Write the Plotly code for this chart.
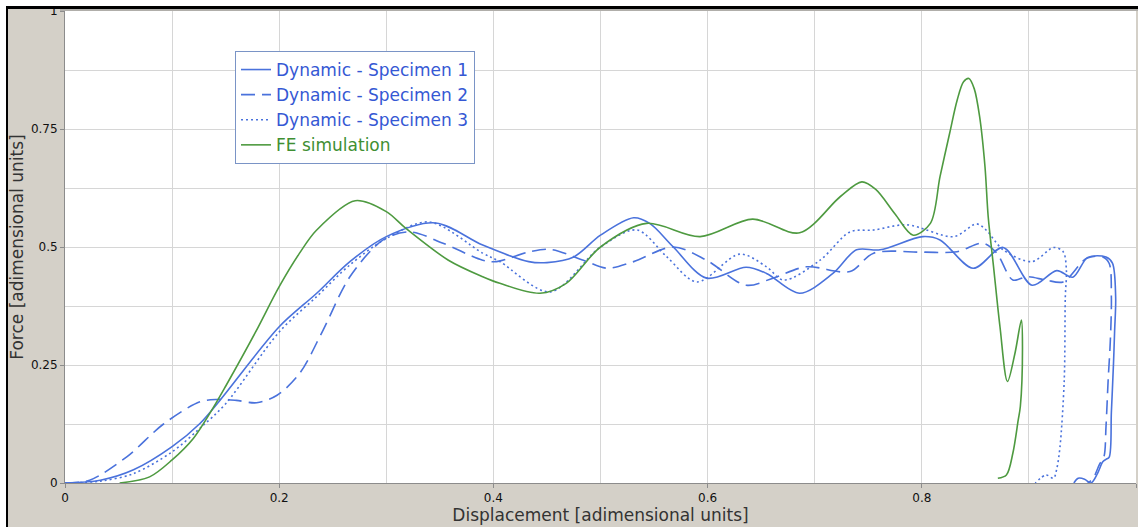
import plotly.graph_objects as go

# Force-displacement curves (adimensional units)
spec1_x = [0, 0.033, 0.064, 0.1, 0.126, 0.145, 0.2, 0.235, 0.266, 0.3, 0.346, 0.39, 0.433,
           0.45, 0.475, 0.5, 0.531, 0.546, 0.568, 0.599, 0.636, 0.655, 0.686, 0.717, 0.739,
           0.761, 0.801, 0.817, 0.848, 0.876, 0.903, 0.926, 0.941, 0.955, 0.972, 0.978,
           0.981, 0.98, 0.979, 0.977, 0.975, 0.972, 0.969, 0.964, 0.958, 0.952, 0.946, 0.942]
spec1_y = [0, 0.006, 0.028, 0.077, 0.126, 0.176, 0.331, 0.402, 0.469, 0.522, 0.551, 0.504, 0.469,
           0.467, 0.479, 0.525, 0.562, 0.55, 0.5, 0.434, 0.457, 0.444, 0.402, 0.444, 0.494,
           0.494, 0.522, 0.515, 0.455, 0.499, 0.419, 0.45, 0.436, 0.478, 0.479, 0.466,
           0.394, 0.32, 0.254, 0.15, 0.055, 0.05, 0.045, 0.02, 0.0, 0.008, 0.01, 0.0]

spec2_x = [0, 0.023, 0.058, 0.092, 0.126, 0.142, 0.16, 0.179, 0.198, 0.219, 0.241, 0.266, 0.297,
           0.322, 0.353, 0.39, 0.403, 0.434, 0.453, 0.484, 0.506, 0.531, 0.568, 0.599, 0.636,
           0.661, 0.692, 0.733, 0.755, 0.801, 0.833, 0.857, 0.87, 0.885, 0.898, 0.916, 0.932,
           0.954, 0.969, 0.975, 0.977, 0.976, 0.974, 0.972, 0.97, 0.966, 0.96, 0.955]
spec2_y = [0, 0.006, 0.056, 0.125, 0.172, 0.177, 0.175, 0.17, 0.186, 0.232, 0.324, 0.437, 0.515,
           0.532, 0.508, 0.472, 0.469, 0.49, 0.495, 0.472, 0.455, 0.469, 0.5, 0.472, 0.419,
           0.434, 0.458, 0.448, 0.487, 0.489, 0.49, 0.508, 0.487, 0.43, 0.437, 0.43, 0.426,
           0.476, 0.479, 0.465, 0.394, 0.3, 0.218, 0.12, 0.055, 0.04, 0.01, 0.0]

spec3_x = [0, 0.033, 0.064, 0.1, 0.126, 0.15, 0.2, 0.235, 0.266, 0.3, 0.34, 0.39, 0.406, 0.453,
           0.5, 0.534, 0.562, 0.59, 0.63, 0.655, 0.671, 0.705, 0.733, 0.755, 0.786, 0.83, 0.851,
           0.86, 0.876, 0.903, 0.923, 0.932, 0.935, 0.934, 0.933, 0.929, 0.926, 0.923, 0.916, 0.906]
spec3_y = [0, 0.004, 0.02, 0.066, 0.116, 0.168, 0.32, 0.395, 0.462, 0.518, 0.553, 0.487, 0.469, 0.405,
           0.5, 0.536, 0.479, 0.426, 0.485, 0.458, 0.43, 0.472, 0.532, 0.536, 0.547, 0.522, 0.549,
           0.536, 0.494, 0.469, 0.499, 0.49, 0.451, 0.394, 0.218, 0.076, 0.03, 0.01, 0.017, 0.0]

fe_x = [0.051, 0.079, 0.1, 0.12, 0.138, 0.15, 0.178, 0.2, 0.219, 0.235, 0.271, 0.3, 0.318, 0.358,
        0.39, 0.406, 0.4435, 0.468, 0.5, 0.543, 0.593, 0.642, 0.686, 0.724, 0.744, 0.757, 0.775,
        0.792, 0.808, 0.817, 0.826, 0.833, 0.839, 0.844, 0.849, 0.854, 0.859, 0.862, 0.867,
        0.873, 0.88, 0.887, 0.893, 0.894, 0.892, 0.89, 0.885, 0.879, 0.871]
fe_y = [0, 0.013, 0.049, 0.095, 0.158, 0.205, 0.32, 0.416, 0.487, 0.536, 0.598, 0.575, 0.54, 0.472,
        0.437, 0.423, 0.402, 0.423, 0.5, 0.55, 0.522, 0.559, 0.53, 0.607, 0.638, 0.622, 0.57,
        0.525, 0.55, 0.649, 0.741, 0.811, 0.85, 0.857, 0.835, 0.776, 0.67, 0.564, 0.458,
        0.331, 0.215, 0.275, 0.345, 0.289, 0.162, 0.133, 0.063, 0.017, 0.01]

x_ticks = [0, 0.2, 0.4, 0.6, 0.8, 1]
x_tick_text = ["0", "0.2", "0.4", "0.6", "0.8", "1"]
y_ticks = [0, 0.25, 0.5, 0.75, 1]
y_tick_text = ["0", "0.25", "0.5", "0.75", "1"]

BLUE = "#4a72dc"
BLUE_TXT = "#3558d4"
GREEN = "#4e9a40"
GREEN_TXT = "#3f8f33"
FONT = "DejaVu Sans, Verdana, sans-serif"

W, H = 1138, 527
ML, MR, MT, MB = 65, 2, 11, 44
PW, PH = W - ML - MR, H - MT - MB


def px_x(p):
    return (p - ML) / PW


def px_y(p):
    return (H - MB - p) / PH


fig = go.Figure()
series = [
    (spec1_x, spec1_y, "Dynamic - Specimen 1", BLUE, BLUE_TXT, "solid"),
    (spec2_x, spec2_y, "Dynamic - Specimen 2", BLUE, BLUE_TXT, "14px,7px"),
    (spec3_x, spec3_y, "Dynamic - Specimen 3", BLUE, BLUE_TXT, "2px,3px"),
    (fe_x, fe_y, "FE simulation", GREEN, GREEN_TXT, "solid"),
]
for xs, ys, name, col, tcol, dash in series:
    fig.add_trace(go.Scatter(
        x=xs, y=ys, mode="lines",
        name=f'<span style="color:{tcol}">{name}</span>',
        line=dict(color=col, width=1.6, dash=dash, shape="spline", smoothing=0.9),
    ))

axis_common = dict(
    showline=True, linecolor="#8c8c8c", linewidth=1,
    ticks="outside", ticklen=4, tickcolor="#8c8c8c",
    showgrid=True, gridcolor="#d6d6d6", gridwidth=1,
    zeroline=False, tickfont=dict(family=FONT, size=12, color="#111"),
    title_font=dict(family=FONT, size=17, color="#333"),
)

fig.update_xaxes(
    range=[0, 1], tickvals=x_ticks, ticktext=x_tick_text,
    minor=dict(dtick=0.1, tick0=0, showgrid=True, gridcolor="#d6d6d6", ticks=""),
    title=dict(text="Displacement [adimensional units]", standoff=1),
    **axis_common,
)
fig.update_yaxes(
    range=[0, 1], tickvals=y_ticks, ticktext=y_tick_text,
    minor=dict(dtick=0.125, tick0=0, showgrid=True, gridcolor="#d6d6d6", ticks=""),
    title=dict(text="Force [adimensional units]", standoff=2),
    **axis_common,
)

shapes = [
    # white strips outside the frame
    dict(type="rect", xref="paper", yref="paper", x0=px_x(0), x1=px_x(6), y0=px_y(H), y1=px_y(0),
         fillcolor="white", line_width=0, layer="above"),
    dict(type="rect", xref="paper", yref="paper", x0=px_x(0), x1=px_x(W), y0=px_y(6), y1=px_y(0),
         fillcolor="white", line_width=0, layer="above"),
    # black frame
    dict(type="line", xref="paper", yref="paper", x0=px_x(7), x1=px_x(7), y0=px_y(H), y1=px_y(6),
         line=dict(color="black", width=2), layer="above"),
    dict(type="line", xref="paper", yref="paper", x0=px_x(6), x1=px_x(W), y0=px_y(7.5), y1=px_y(7.5),
         line=dict(color="black", width=3), layer="above"),
    # top edge of the plotting area
    dict(type="line", xref="paper", yref="paper", x0=px_x(60), x1=px_x(W), y0=px_y(10), y1=px_y(10),
         line=dict(color="#8c8c8c", width=1), layer="above"),
]

fig.update_layout(
    width=W, height=H,
    margin=dict(l=ML, r=MR, t=MT, b=MB),
    paper_bgcolor="#d4d0c8",
    plot_bgcolor="white",
    font=dict(family=FONT, size=12, color="#111"),
    shapes=shapes,
    legend=dict(
        x=px_x(235), y=px_y(51), xanchor="left", yanchor="top",
        bgcolor="white", bordercolor="#7a94c6", borderwidth=1,
        font=dict(family=FONT, size=17, color=BLUE_TXT),
        itemwidth=30, tracegroupgap=0,
    ),
    showlegend=True,
)

fig.write_html("out.html")
